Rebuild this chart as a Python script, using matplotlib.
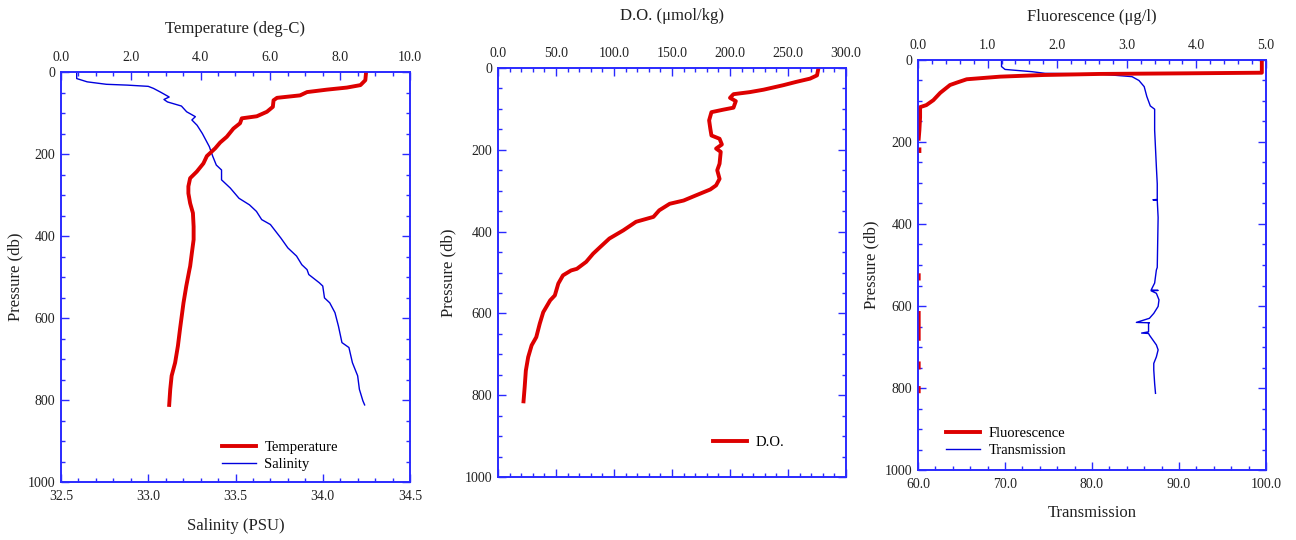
import numpy as np
import matplotlib
matplotlib.use("Agg")
import matplotlib.pyplot as plt
from matplotlib.ticker import MultipleLocator, FormatStrFormatter

plt.rcParams['font.family'] = ['Liberation Serif', 'DejaVu Serif']

# ---------------- data ----------------
temp_p = [2, 20, 32, 38, 43, 49, 57, 63, 69, 85, 97, 108, 113, 125, 138, 158, 172, 186, 194, 205,
          223, 243, 259, 279, 296, 320, 344, 377, 409, 441, 474, 482, 522, 563, 595, 627, 668, 709,
          741, 774, 812]
temp_v = [8.74, 8.72, 8.58, 8.19, 7.62, 7.05, 6.85, 6.19, 6.09, 6.07, 5.90, 5.61, 5.18, 5.13, 4.94,
          4.75, 4.56, 4.42, 4.32, 4.18, 4.08, 3.89, 3.70, 3.65, 3.65, 3.70, 3.78, 3.80, 3.80, 3.75,
          3.70, 3.68, 3.59, 3.51, 3.46, 3.41, 3.35, 3.27, 3.17, 3.13, 3.10]

sal_p = [4, 16, 24, 30, 32, 35, 40, 49, 61, 67, 73, 83, 97, 109, 117, 130, 150, 182, 206, 227, 239,
         263, 283, 308, 324, 340, 360, 372, 405, 429, 449, 470, 482, 494, 514, 522, 551, 563, 587,
         620, 660, 672, 709, 741, 774, 802, 812]
sal_v = [32.59, 32.59, 32.65, 32.76, 32.88, 33.00, 33.03, 33.07, 33.12, 33.09, 33.11, 33.19, 33.22,
         33.27, 33.25, 33.28, 33.31, 33.35, 33.37, 33.39, 33.42, 33.42, 33.47, 33.52, 33.58, 33.62,
         33.65, 33.70, 33.76, 33.80, 33.85, 33.88, 33.91, 33.92, 33.98, 34.00, 34.01, 34.04, 34.07,
         34.09, 34.11, 34.15, 34.17, 34.20, 34.21, 34.23, 34.24]

do_p = [4, 18, 26, 34, 42, 53, 59, 64, 73, 81, 97, 102, 108, 128, 148, 165, 173, 187, 197, 205, 234,
        250, 271, 287, 297, 311, 324, 332, 348, 364, 376, 397, 417, 438, 454, 474, 491, 495, 507, 527,
        556, 568, 597, 625, 658, 678, 707, 740, 780, 815]
do_v = [276, 275, 269, 257, 246, 229, 217, 203, 200, 205, 203, 194, 184, 182, 183, 184, 191, 193, 188,
        192, 191, 189, 191, 188, 183, 171, 160, 148, 139, 134, 119, 108, 96, 88, 82, 76, 68, 63, 56,
        52, 49, 45, 39, 36, 33, 29, 26, 24, 23, 22]

fl_p = [0, 31, 32.5, 34, 36.6, 40.6, 47, 55, 61, 80, 98, 110, 115, 140, 171, 192, np.nan,
        218, 222, np.nan, 525, 533, np.nan, 617, 680, np.nan, 740, 750, np.nan, 800, 808]
fl_v = [4.94, 4.94, 3.86, 2.61, 1.80, 1.18, 0.70, 0.56, 0.46, 0.32, 0.22, 0.12, 0.03, 0.03, 0.02, 0.01,
        np.nan, 0.02, 0.02, np.nan, 0.01, 0.01, np.nan, 0.01, 0.01, np.nan, 0.01, 0.01, np.nan,
        0.01, 0.01]

tr_p = [0, 16, 23, 28.5, 32.5, 34, 40.6, 50, 65, 89, 112, 120, 171, 261, 302, 340, 341, 342, 384,
        506, 512, 544, 561, 562, 563, 569, 585, 601, 618, 630, 640, 641, 642, 663, 666, 667, 671,
        683, 695, 707, 724, 740, 756, 789, 813]
tr_v = [69.6, 69.6, 70.0, 73.1, 74.6, 80.7, 84.6, 85.4, 86.0, 86.3, 86.7, 87.2, 87.2, 87.4, 87.5,
        87.5, 87.0, 87.5, 87.6, 87.5, 87.4, 87.2, 86.8, 87.6, 86.8, 87.4, 87.7, 87.6, 87.1, 86.6,
        85.1, 86.6, 86.5, 86.5, 85.7, 86.5, 86.6, 87.0, 87.4, 87.6, 87.4, 87.1, 87.1, 87.2, 87.3]

RED = '#dd0000'
BLUE = '#0000dd'
SPINE = '#2a2aff'
TXT = '#222222'
TICK_FS = 10
LAB_FS = 12
LEG_FS = 10.5

fig = plt.figure(figsize=(12.96, 5.4), dpi=100)


def style(ax, xmaj, xmin, labels_bottom=True):
    for s in ax.spines.values():
        s.set_color(SPINE)
        s.set_linewidth(1.2)
    ax.set_ylim(1000, 0)
    ax.yaxis.set_major_locator(MultipleLocator(200))
    ax.yaxis.set_minor_locator(MultipleLocator(50))
    ax.xaxis.set_major_locator(MultipleLocator(xmaj))
    ax.xaxis.set_minor_locator(MultipleLocator(xmin))
    ax.tick_params(which='both', direction='in', color=SPINE, width=1.0,
                   labelsize=TICK_FS, labelcolor=TXT)
    ax.tick_params(which='major', length=6)
    ax.tick_params(which='minor', length=3)
    ax.tick_params(axis='y', which='both', left=True, right=True, pad=4)
    ax.tick_params(axis='x', which='both', top=False, bottom=True,
                   labelbottom=labels_bottom, pad=6)


def top_twin(ax, xlim, xmaj, xmin, fmt):
    t = ax.twiny()
    t.set_xlim(*xlim)
    for s in t.spines.values():
        s.set_color(SPINE)
        s.set_linewidth(1.2)
    t.xaxis.set_major_locator(MultipleLocator(xmaj))
    t.xaxis.set_minor_locator(MultipleLocator(xmin))
    t.xaxis.set_major_formatter(FormatStrFormatter(fmt))
    t.tick_params(which='both', direction='in', color=SPINE, width=1.0,
                  labelsize=TICK_FS, labelcolor=TXT, top=True, bottom=False, pad=6)
    t.tick_params(which='major', length=6)
    t.tick_params(which='minor', length=3)
    return t


# ---------- Panel 1: Temperature / Salinity ----------
ax1 = fig.add_axes([61 / 1296, 1 - 482 / 540, 349 / 1296, 410 / 540])
style(ax1, 0.5, 0.1)
ax1.set_xlim(32.5, 34.5)
ax1.xaxis.set_major_formatter(FormatStrFormatter('%.1f'))
t1 = top_twin(ax1, (0, 10), 2.0, 0.5, '%.1f')
ax1.set_ylim(1000, 0)
l_sal, = ax1.plot(sal_v, sal_p, color=BLUE, lw=1.0)
l_tmp, = t1.plot(temp_v, temp_p, color=RED, lw=2.8)
ax1.set_xlabel('Salinity (PSU)', fontsize=LAB_FS, color=TXT)
ax1.xaxis.set_label_coords(0.5, -0.088)
t1.set_xlabel('Temperature (deg-C)', fontsize=LAB_FS, color=TXT)
t1.xaxis.set_label_coords(0.5, 1.095)
ax1.set_ylabel('Pressure (db)', fontsize=LAB_FS, color=TXT)
ax1.yaxis.set_label_coords(-0.108, 0.5)
fig.legend([l_tmp, l_sal], ['Temperature', 'Salinity'], loc='upper left',
           bbox_to_anchor=(222 / 1296, 1 - 441 / 540), frameon=False, fontsize=LEG_FS,
           handlelength=2.3, handletextpad=0.6, labelspacing=0.25, borderpad=0,
           borderaxespad=0)

# ---------- Panel 2: D.O. ----------
ax2 = fig.add_axes([498 / 1296, 1 - 477 / 540, 348 / 1296, 409 / 540])
style(ax2, 50, 10, labels_bottom=False)
ax2.set_xlim(0, 300)
t2 = top_twin(ax2, (0, 300), 50, 10, '%.1f')
ax2.set_ylim(1000, 0)
l_do, = t2.plot(do_v, do_p, color=RED, lw=2.8)
t2.set_xlabel('D.O. (\u03bcmol/kg)', fontsize=LAB_FS, color=TXT)
t2.xaxis.set_label_coords(0.5, 1.118)
ax2.set_ylabel('Pressure (db)', fontsize=LAB_FS, color=TXT)
ax2.yaxis.set_label_coords(-0.12, 0.5)
fig.legend([l_do], ['D.O.'], loc='upper left',
           bbox_to_anchor=(713 / 1296, 1 - 436 / 540), frameon=False, fontsize=LEG_FS,
           handlelength=2.3, handletextpad=0.6, borderpad=0, borderaxespad=0)

# ---------- Panel 3: Fluorescence / Transmission ----------
ax3 = fig.add_axes([918 / 1296, 1 - 470 / 540, 348 / 1296, 410 / 540])
style(ax3, 10, 2)
ax3.set_xlim(60, 100)
ax3.xaxis.set_major_formatter(FormatStrFormatter('%.1f'))
t3 = top_twin(ax3, (0, 5), 1.0, 0.2, '%.1f')
ax3.set_ylim(1000, 0)
l_tr, = ax3.plot(tr_v, tr_p, color=BLUE, lw=1.0)
l_fl, = t3.plot(fl_v, fl_p, color=RED, lw=2.8)
ax3.set_xlabel('Transmission', fontsize=LAB_FS, color=TXT)
ax3.xaxis.set_label_coords(0.5, -0.085)
t3.set_xlabel('Fluorescence (\u03bcg/l)', fontsize=LAB_FS, color=TXT)
t3.xaxis.set_label_coords(0.5, 1.095)
ax3.set_ylabel('Pressure (db)', fontsize=LAB_FS, color=TXT)
ax3.yaxis.set_label_coords(-0.11, 0.5)
fig.legend([l_fl, l_tr], ['Fluorescence', 'Transmission'], loc='upper left',
           bbox_to_anchor=(946 / 1296, 1 - 427 / 540), frameon=False, fontsize=LEG_FS,
           handlelength=2.3, handletextpad=0.6, labelspacing=0.25, borderpad=0,
           borderaxespad=0)

fig.savefig('out.png', dpi=100)
